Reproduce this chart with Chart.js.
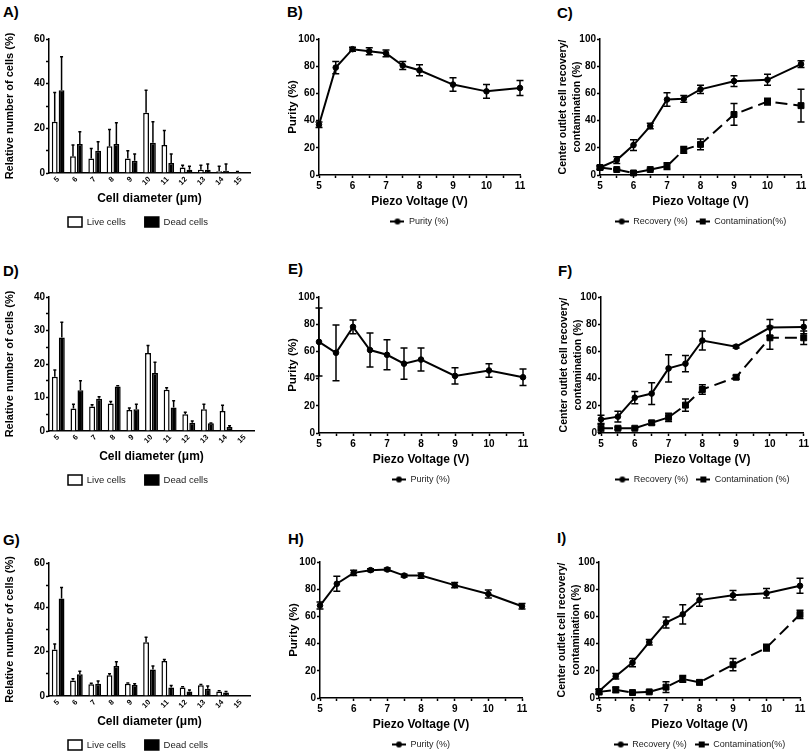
<!DOCTYPE html>
<html>
<head>
<meta charset="utf-8">
<script src="https://cdn.jsdelivr.net/npm/chart.js@4.4.1/dist/chart.umd.min.js"></script>
<style>
body { margin: 0; width: 811px; height: 751px; overflow: hidden; background: #fff; position: relative; font-family: "Liberation Sans", Arial, sans-serif; }
canvas { position: absolute; }
.tag { position: absolute; font-weight: bold; font-size: 15px; line-height: 16px; }
</style>
</head>
<body>
<div class="tag" style="left:3px;top:4px">A)</div>
<div class="tag" style="left:287px;top:4px">B)</div>
<div class="tag" style="left:557px;top:5px">C)</div>
<div class="tag" style="left:3px;top:263px">D)</div>
<div class="tag" style="left:288px;top:261px">E)</div>
<div class="tag" style="left:558px;top:263px">F)</div>
<div class="tag" style="left:3px;top:532px">G)</div>
<div class="tag" style="left:288px;top:531px">H)</div>
<div class="tag" style="left:557px;top:530px">I)</div>

<canvas id="cA" width="270" height="210" style="left:0;top:28px"></canvas>
<canvas id="cB" width="270" height="210" style="left:270px;top:28px"></canvas>
<canvas id="cC" width="271" height="210" style="left:540px;top:28px"></canvas>
<canvas id="cD" width="270" height="210" style="left:0;top:286px"></canvas>
<canvas id="cE" width="270" height="210" style="left:270px;top:286px"></canvas>
<canvas id="cF" width="271" height="210" style="left:540px;top:286px"></canvas>
<canvas id="cG" width="270" height="210" style="left:0;top:551px"></canvas>
<canvas id="cH" width="270" height="210" style="left:270px;top:551px"></canvas>
<canvas id="cI" width="271" height="210" style="left:540px;top:551px"></canvas>

<script>
// categories / x values
const diameters = ['5', '6', '7', '8', '9', '10', '11', '12', '13', '14', '15'];
const voltages = [5, 5.5, 6, 6.5, 7, 7.5, 8, 9, 10, 11];

// A) cell size distribution
const liveA = [23, 7.5, 6.5, 12, 6.5, 27, 12.5, 2.5, 1.5, 0.8, 0.4];
const liveAErr = [13, 5, 4.5, 7.5, 3.5, 10, 6.5, 1, 2, 2.2, 0.3];
const deadA = [37, 13, 10, 13, 5.5, 13.5, 4.5, 1.5, 1.5, 1, 0];
const deadAErr = [15, 5.5, 4, 9.5, 3, 9.5, 4, 1.5, 2.5, 3, 0];

// D)
const liveD = [16.2, 6.7, 7.3, 8.2, 6.3, 23.3, 12.3, 5, 6.5, 6, 0.2];
const liveDErr = [2, 1.3, 0.5, 0.6, 0.6, 2.2, 0.6, 0.6, 1.5, 1.7, 0];
const deadD = [27.9, 12.2, 9.6, 13.3, 6.5, 17.3, 7, 2.5, 2.3, 1.2, 0];
const deadDErr = [4.6, 2.8, 0.6, 0.2, 1.5, 3.2, 2, 0.5, 0.1, 0.4, 0];

// G)
const liveG = [21, 7, 5.3, 9.4, 5.5, 24.3, 15.8, 3.8, 4.8, 2, 0.2];
const liveGErr = [2.5, 0.8, 0.5, 0.6, 0.4, 2.2, 0.7, 0.4, 0.4, 0.4, 0];
const deadG = [44, 9.8, 5.5, 13.5, 5, 12, 3.8, 2, 3.3, 1.6, 0];
const deadGErr = [5, 1.4, 1.3, 2, 0.5, 1.5, 0.9, 0.7, 1.2, 0.4, 0];

// B) E) H) purity
const purityB = [37, 79, 92.5, 91, 89.5, 80.5, 77, 66.5, 61.5, 64];
const purityBErr = [2, 4.5, 1.5, 2.5, 2.5, 3, 4, 5, 5, 5.5];
const purityE = [67, 59, 78, 61, 57.5, 51, 54, 42, 46, 41];
const purityEErr = [25, 20.5, 5, 12.5, 11, 11.5, 8.5, 6, 5, 6];
const purityH = [68, 84, 92, 94, 94.5, 90, 90, 83, 76.5, 67.5];
const purityHErr = [2.5, 5.5, 2, 1, 1, 1, 2, 2, 3, 2];

// C) F) I) recovery / contamination
const recoveryC = [5.5, 11, 22, 36, 55.5, 56, 63, 69, 70, 81.5];
const recoveryCErr = [1.5, 2.5, 4, 2, 5, 2.5, 3, 4, 4, 2.5];
const contamC = [5.5, 4, 1.5, 4, 6.5, 18.5, 22.5, 44.5, 54, 51];
const contamCErr = [1, 0.5, 1, 0.5, 2.5, 2.5, 4, 8, 2.5, 12];

const recoveryF = [10, 12, 26, 29, 47.5, 51, 68, 63.5, 77.5, 78];
const recoveryFErr = [3, 4, 4.5, 8, 10, 6, 7, 1, 6, 5];
const contamF = [3.5, 3.5, 3.5, 7.5, 11.5, 20.5, 32, 41, 70, 70];
const contamFErr = [3, 1, 0.5, 1.5, 3, 4.5, 3.5, 1.5, 8.5, 5];

const recoveryI = [5, 16, 26, 41, 55.5, 61.5, 72, 75.5, 77, 82.5];
const recoveryIErr = [1.5, 2, 3, 2, 4, 7, 4.5, 3.5, 3.5, 5.5];
const contamI = [4.5, 6, 4, 4.5, 8, 14, 11.5, 24.5, 37, 61.5];
const contamIErr = [2, 2, 0.5, 0.5, 4, 2.5, 1.5, 4.5, 2.5, 3];

Chart.defaults.font.family = '"Liberation Sans", Arial, sans-serif';
Chart.defaults.color = '#000';
Chart.defaults.animation = false;

// error bars: whiskers with caps, up only for the bar charts
const errorBars = {
  id: 'errorBars',
  afterDatasetsDraw(chart) {
    const ctx = chart.ctx;
    chart.data.datasets.forEach((ds, i) => {
      if (!ds.errors) return;
      const meta = chart.getDatasetMeta(i);
      const ys = chart.scales[meta.yAxisID];
      ctx.save();
      ctx.strokeStyle = '#000';
      ctx.lineWidth = 1.5;
      meta.data.forEach((el, j) => {
        const err = ds.errors[j];
        if (!err) return;
        const raw = ds.data[j];
        const v = typeof raw === 'object' ? raw.y : raw;
        const top = ys.getPixelForValue(v + err);
        const bot = ds.upOnly ? ys.getPixelForValue(v) : ys.getPixelForValue(v - err);
        const cap = ds.cap;
        ctx.beginPath();
        ctx.moveTo(el.x, top); ctx.lineTo(el.x, bot);
        ctx.moveTo(el.x - cap, top); ctx.lineTo(el.x + cap, top);
        if (!ds.upOnly) { ctx.moveTo(el.x - cap, bot); ctx.lineTo(el.x + cap, bot); }
        ctx.stroke();
      });
      ctx.restore();
    });
  }
};

function legendIcon(style) {
  const c = document.createElement('canvas');
  c.width = 14; c.height = 8;
  const g = c.getContext('2d');
  g.fillStyle = '#000'; g.strokeStyle = '#000'; g.lineWidth = 2;
  g.beginPath(); g.moveTo(0, 4); g.lineTo(14, 4); g.stroke();
  if (style === 'rect') g.fillRect(4, 1, 6, 6);
  else { g.beginPath(); g.arc(7, 4, 3, 0, Math.PI * 2); g.fill(); }
  return c;
}
const icons = { circle: legendIcon('circle'), rect: legendIcon('rect') };

function yAxis(max, step, every, width, title, size, lh, padTop) {
  return {
    min: 0, max: max,
    afterFit: s => { s.width = width; },
    border: { color: '#000', width: 1.5 },
    grid: { drawOnChartArea: false, tickLength: 3, tickWidth: 1.5, tickColor: '#000' },
    ticks: { stepSize: step, padding: 1, font: { size: 10, weight: 'bold' },
      callback: v => v % every === 0 ? v : '' },
    title: { display: true, text: title, font: { size: size, weight: 'bold', lineHeight: lh },
      padding: { top: padTop, bottom: 0 } }
  };
}

function barChart(id, live, liveErr, dead, deadErr, yMax, step, every, pad) {
  new Chart(document.getElementById(id), {
    type: 'bar',
    data: {
      labels: diameters,
      datasets: [
        { label: 'Live cells', data: live, errors: liveErr, upOnly: true, cap: 1.5,
          backgroundColor: '#fff', borderColor: '#000', borderWidth: 1.5 },
        { label: 'Dead cells', data: dead, errors: deadErr, upOnly: true, cap: 1.5,
          backgroundColor: '#000', borderColor: '#000', borderWidth: 1.5 }
      ]
    },
    options: {
      responsive: false,
      layout: { padding: pad },
      datasets: { bar: { barPercentage: 0.85, categoryPercentage: 0.75 } },
      scales: {
        x: {
          afterFit: s => { s.height = 25; },
          border: { color: '#000', width: 1.5 },
          grid: { display: false },
          ticks: { autoSkip: false, minRotation: 45, maxRotation: 45, padding: -6,
            font: { size: 7.5, weight: 'bold' } },
          title: { display: true, text: 'Cell diameter (μm)', font: { size: 12, weight: 'bold' },
            padding: { top: 0, bottom: -8 } }
        },
        y: yAxis(yMax, step, every, 49, 'Relative number of cells (%)', 11, 1.2, 3.4)
      },
      plugins: {
        legend: { position: 'bottom', fullSize: false, align: 'start',
          labels: { boxWidth: 14, boxHeight: 10, padding: 19, color: '#222', font: { size: 9.5 } } },
        tooltip: { enabled: false }
      }
    },
    plugins: [errorBars]
  });
}

function lineSet(label, ys, errs, style) {
  const dashed = style === 'rect';
  return {
    label: label, data: voltages.map((x, i) => ({ x: x, y: ys[i] })), errors: errs, cap: 3.5,
    borderColor: '#000', backgroundColor: '#000', borderWidth: 2, tension: 0, clip: false,
    borderDash: dashed ? [12, 6] : [], pointStyle: style,
    pointRadius: dashed ? 4.2 : 2.8, pointBorderWidth: 1
  };
}

function lineChart(id, sets, width, title, size, lh, padTop, pad) {
  new Chart(document.getElementById(id), {
    type: 'line',
    data: { datasets: sets },
    options: {
      responsive: false,
      layout: { padding: pad },
      scales: {
        x: {
          type: 'linear', min: 5, max: 11,
          afterFit: s => { s.height = 34; },
          border: { color: '#000', width: 1.5 },
          grid: { drawOnChartArea: false, tickLength: 3, tickWidth: 1.5, tickColor: '#000' },
          ticks: { stepSize: 0.5, autoSkip: false, maxRotation: 0, padding: 2,
            font: { size: 10, weight: 'bold' }, callback: v => Number.isInteger(v) ? v : '' },
          title: { display: true, text: 'Piezo Voltage (V)', font: { size: 12, weight: 'bold' },
            padding: { top: 0, bottom: 0 } }
        },
        y: yAxis(100, 10, 20, width, title, size, lh, padTop)
      },
      plugins: {
        legend: {
          position: 'bottom', fullSize: false,
          labels: {
            usePointStyle: true, pointStyleWidth: 14, padding: 8, color: '#222', font: { size: 9 },
            generateLabels: ch => Chart.defaults.plugins.legend.labels.generateLabels(ch).map(it =>
              Object.assign(it, { pointStyle: icons[ch.data.datasets[it.datasetIndex].pointStyle] }))
          }
        },
        tooltip: { enabled: false }
      }
    },
    plugins: [errorBars]
  });
}

barChart('cA', liveA, liveAErr, deadA, deadAErr, 60, 10, 20, { top: 11, right: 20, bottom: 1, left: 0 });
barChart('cD', liveD, liveDErr, deadD, deadDErr, 40, 5, 10, { top: 11, right: 16, bottom: 1, left: 0 });
barChart('cG', liveG, liveGErr, deadG, deadGErr, 60, 10, 20, { top: 12, right: 20, bottom: 1, left: 0 });

lineChart('cB', [lineSet('Purity (%)', purityB, purityBErr, 'circle')], 49, 'Purity (%)', 11.5, 1.2, 16,
  { top: 11, right: 20, bottom: 2, left: 0 });
lineChart('cE', [lineSet('Purity (%)', purityE, purityEErr, 'circle')], 49, 'Purity (%)', 11.5, 1.2, 16,
  { top: 11, right: 17, bottom: 2, left: 0 });
lineChart('cH', [lineSet('Purity (%)', purityH, purityHErr, 'circle')], 50, 'Purity (%)', 11.5, 1.2, 17,
  { top: 11, right: 18, bottom: 2, left: 0 });

const recTitle = ['Center outlet cell recovery/', 'contamination (%)'];
lineChart('cC', [lineSet('Recovery (%)', recoveryC, recoveryCErr, 'circle'),
  lineSet('Contamination(%)', contamC, contamCErr, 'rect')], 60, recTitle, 10.5, 1.25, 17,
  { top: 11, right: 10, bottom: 2, left: 0 });
lineChart('cF', [lineSet('Recovery (%)', recoveryF, recoveryFErr, 'circle'),
  lineSet('Contamination (%)', contamF, contamFErr, 'rect')], 61, recTitle, 10.5, 1.25, 18,
  { top: 11, right: 6, bottom: 2, left: 0 });
lineChart('cI', [lineSet('Recovery (%)', recoveryI, recoveryIErr, 'circle'),
  lineSet('Contamination(%)', contamI, contamIErr, 'rect')], 59, recTitle, 10.5, 1.25, 16,
  { top: 11, right: 11, bottom: 2, left: 0 });
</script>
</body>
</html>
